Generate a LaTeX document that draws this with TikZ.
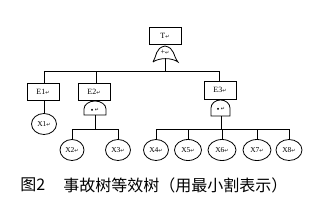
\documentclass[tikz,border=0pt]{standalone}
\usetikzlibrary{shapes.geometric}
\usepackage{fontspec}
\setmainfont{Liberation Serif}
\newfontfamily\cjk{Noto Sans CJK SC}
\newfontfamily\djv{DejaVu Sans}
\newcommand{\rmk}{{\djv\fontsize{5}{5}\selectfont ↵}}
\begin{document}
\begin{tikzpicture}[x=1pt,y=-1pt,line width=0.8pt,
  evbox/.style={draw,rectangle,minimum width=32pt,minimum height=17pt,inner sep=0pt,font=\fontsize{8}{8}\selectfont},
  basic/.style={draw,ellipse,minimum width=25pt,minimum height=21pt,inner sep=0pt,font=\fontsize{7.5}{7.5}\selectfont},
  gatelbl/.style={inner sep=0pt,font=\fontsize{8}{8}\selectfont},
  captext/.style={inner sep=0pt,anchor=west,font=\cjk\fontsize{16}{16}\selectfont}]
\useasboundingbox (0,0) rectangle (317,212);
\fill[white] (0,0) rectangle (317,212);
% top event
\node[evbox] (T) at (165,35.5) {T\rmk};
% OR gate
\draw (153,62) .. controls (157,56) and (155,48) .. (165,46) .. controls (175,48) and (173,56) .. (178,62) .. controls (172,57.5) and (159,57.5) .. (153,62);
\node[gatelbl] (orl) at (165,52) {+\rmk};
\coordinate (orb) at (165,58.5);
\coordinate (bt) at (165,71);
\draw (orb) -- (bt);
% intermediate events
\node[evbox] (E1) at (43,91.5) {E1\rmk};
\node[evbox] (E2) at (94,91.5) {E2\rmk};
\node[evbox,minimum height=18pt] (E3) at (220,90) {E3\rmk};
\coordinate (b1) at (44,71);
\coordinate (b2) at (96,71);
\coordinate (b3) at (219,71);
\draw (b1) -- (b3);
\draw (b1) -- (b1 |- E1.north);
\draw (b2) -- (b2 |- E2.north);
\draw (b3) -- (b3 |- E3.north);
% X1
\node[basic] (X1) at (44,124) {X1\rmk};
\draw (E1.south -| X1) -- (X1.north);
% AND gate under E2
\draw (84,115) -- (84,109) arc[start angle=180,end angle=0,x radius=11,y radius=-8] -- (106,115) -- cycle;
\node[gatelbl] (a2l) at (95,110) {\scalebox{0.6}{$\bullet$}\,\rmk};
\coordinate (a2b) at (95,115);
\coordinate (c2) at (95,129);
\draw (a2b) -- (c2);
\node[basic,minimum width=24pt] (X2) at (72,150) {X2\rmk};
\node[basic,minimum width=25pt] (X3) at (118,150) {X3\rmk};
\draw (X2 |- c2) -- (X3 |- c2);
\draw (X2 |- c2) -- (X2.north);
\draw (X3 |- c2) -- (X3.north);
% AND gate under E3
\draw (211,116) -- (211,108) arc[start angle=180,end angle=0,x radius=9.5,y radius=-8] -- (230,116) -- cycle;
\node[gatelbl] (a3l) at (221,109) {\scalebox{0.6}{$\bullet$}\,\rmk};
\coordinate (a3b) at (221,116);
\coordinate (c3) at (221,129);
\draw (a3b) -- (c3);
\node[basic] (X4) at (156,150) {X4\rmk};
\node[basic,minimum width=27pt] (X5) at (188,150) {X5\rmk};
\node[basic,minimum width=28pt] (X6) at (222,150) {X6\rmk};
\node[basic,minimum width=28pt] (X7) at (257,150) {X7\rmk};
\node[basic,minimum width=26pt] (X8) at (289,150) {X8\rmk};
\draw (X4 |- c3) -- (X8 |- c3);
\foreach \n in {X4,X5,X6,X7,X8} \draw (\n |- c3) -- (\n.north);
% caption
\node[captext] (cap1) at (20,185) {图2};
\node[captext] (cap2) at (63,185) {事故树等效树（用最小割表示）};
\end{tikzpicture}
\end{document}
